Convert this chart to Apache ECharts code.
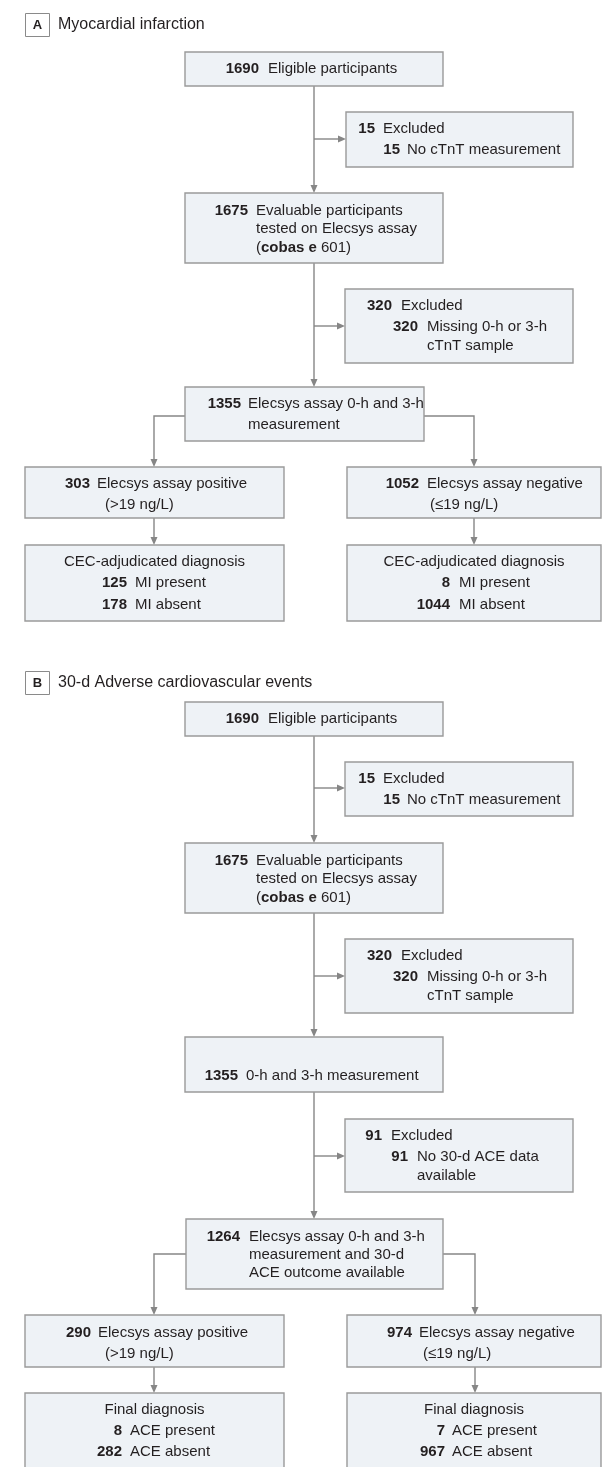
<!DOCTYPE html>
<html><head><meta charset="utf-8">
<script src="https://cdn.jsdelivr.net/npm/echarts/dist/echarts.min.js"></script>
<style>html,body{margin:0;padding:0;background:#fff}#c{width:602px;height:1467px}</style>
</head><body><div id="c"></div>
<script>
// ---------- DATA ----------
const panelLetters = ['A', 'B'];
const panelTitles = ['Myocardial infarction', '30-d Adverse cardiovascular events'];

const numsA = [1690, 15, 15, 1675, null, null, 320, 320, null, 1355, null, 303, null, 1052, null, null, 125, 178, null, 8, 1044];
const textsA = ['Eligible participants', 'Excluded', 'No cTnT measurement',
  'Evaluable participants', 'tested on Elecsys assay', '({b|cobas e} 601)',
  'Excluded', 'Missing 0-h or 3-h', 'cTnT sample',
  'Elecsys assay 0-h and 3-h', 'measurement',
  'Elecsys assay positive', '(>19 ng/L)',
  'Elecsys assay negative', '(≤19 ng/L)',
  'CEC-adjudicated diagnosis', 'MI present', 'MI absent',
  'CEC-adjudicated diagnosis', 'MI present', 'MI absent'];

const numsB = [1690, 15, 15, 1675, null, null, 320, 320, null, 1355, 91, 91, null, 1264, null, null, 290, null, 974, null, null, 8, 282, null, 7, 967];
const textsB = ['Eligible participants', 'Excluded', 'No cTnT measurement',
  'Evaluable participants', 'tested on Elecsys assay', '({b|cobas e} 601)',
  'Excluded', 'Missing 0-h or 3-h', 'cTnT sample',
  '0-h and 3-h measurement',
  'Excluded', 'No 30-d ACE data', 'available',
  'Elecsys assay 0-h and 3-h', 'measurement and 30-d', 'ACE outcome available',
  'Elecsys assay positive', '(>19 ng/L)',
  'Elecsys assay negative', '(≤19 ng/L)',
  'Final diagnosis', 'ACE present', 'ACE absent',
  'Final diagnosis', 'ACE present', 'ACE absent'];

// ---------- LAYOUT (flowchart geometry, in axis units) ----------
const labelBoxes = [[25, 13, 49, 36, 58, 25], [25, 671, 49, 694, 58, 683]];
// [x0, y0, x1, y1, firstLine, lineCount]
const boxesA = [
  [185, 52, 443, 86, 0, 1], [346, 112, 573, 167, 1, 2], [185, 193, 443, 263, 3, 3],
  [345, 289, 573, 363, 6, 3], [185, 387, 424, 441, 9, 2], [25, 467, 284, 518, 11, 2],
  [347, 467, 601, 518, 13, 2], [25, 545, 284, 621, 15, 3], [347, 545, 601, 621, 18, 3]];
// [number right x, text left x (-1 = centred), y]
const linesA = [
  [259, 268, 69],
  [375, 383, 129], [400, 407, 150],
  [248, 256, 211], [0, 256, 229], [0, 256, 248],
  [392, 401, 306], [418, 427, 327], [0, 427, 346],
  [241, 248, 404], [0, 248, 425],
  [90, 97, 484], [0, 105, 505],
  [419, 427, 484], [0, 430, 505],
  [0, -1, 562], [127, 135, 583], [127, 135, 605],
  [0, -1, 562], [450, 459, 583], [450, 459, 605]];
const arrowsA = [
  [[314, 86], [314, 193]], [[314, 139], [346, 139]],
  [[314, 263], [314, 387]], [[314, 326], [345, 326]],
  [[185, 416], [154, 416], [154, 467]], [[424, 416], [474, 416], [474, 467]],
  [[154, 518], [154, 545]], [[474, 518], [474, 545]]];

const boxesB = [
  [185, 702, 443, 736, 0, 1], [345, 762, 573, 816, 1, 2], [185, 843, 443, 913, 3, 3],
  [345, 939, 573, 1013, 6, 3], [185, 1037, 443, 1092, 9, 1], [345, 1119, 573, 1192, 10, 3],
  [186, 1219, 443, 1289, 13, 3], [25, 1315, 284, 1367, 16, 2], [347, 1315, 601, 1367, 18, 2],
  [25, 1393, 284, 1480, 20, 3], [347, 1393, 601, 1480, 23, 3]];
const linesB = [
  [259, 268, 719],
  [375, 383, 779], [400, 407, 800],
  [248, 256, 861], [0, 256, 879], [0, 256, 898],
  [392, 401, 956], [418, 427, 977], [0, 427, 996],
  [238, 246, 1076],
  [382, 391, 1136], [408, 417, 1157], [0, 417, 1176],
  [240, 249, 1237], [0, 249, 1255], [0, 249, 1273],
  [91, 98, 1333], [0, 105, 1354],
  [412, 419, 1333], [0, 423, 1354],
  [0, -1, 1410], [122, 130, 1431], [122, 130, 1452],
  [0, -1, 1410], [445, 452, 1431], [445, 452, 1452]];
const arrowsB = [
  [[314, 736], [314, 843]], [[314, 788], [345, 788]],
  [[314, 913], [314, 1037]], [[314, 976], [345, 976]],
  [[314, 1092], [314, 1219]], [[314, 1156], [345, 1156]],
  [[186, 1254], [154, 1254], [154, 1315]], [[443, 1254], [475, 1254], [475, 1315]],
  [[154, 1367], [154, 1393]], [[475, 1367], [475, 1393]]];

// ---------- STYLE ----------
const FONT = '"Liberation Sans", Arial, sans-serif';
const FS = 15;
const TITLE_FS = 16;
const TXT = '#231f20';
const BOX_FILL = '#eef2f6';
const BOX_STROKE = '#9a9a9a';
const LINE = '#868686';

const panels = [
  {nums: numsA, texts: textsA, boxes: boxesA, lines: linesA, arrows: arrowsA},
  {nums: numsB, texts: textsB, boxes: boxesB, lines: linesB, arrows: arrowsB}];

const boxData = [], arrowData = [];
panels.forEach((p, pi) => {
  p.boxes.forEach((b, bi) => boxData.push({value: [b[0], b[1], b[2], b[3]], pi: pi, bi: bi}));
  p.arrows.forEach((a, ai) => arrowData.push({value: [a[0][0], a[0][1]], pi: pi, ai: ai}));
});

function textEl(x, y, text, align, bold, size) {
  const fs = size || FS;
  return {
    type: 'text', x: x, y: y,
    style: {
      text: text, fill: TXT, fontSize: fs, fontFamily: FONT, fontWeight: bold ? 'bold' : 'normal',
      align: align, textAlign: align, verticalAlign: 'middle', textVerticalAlign: 'middle',
      rich: {b: {fontWeight: 'bold', fontSize: fs, fontFamily: FONT, fill: TXT, color: TXT}}
    }
  };
}

const chart = echarts.init(document.getElementById('c'), null, {renderer: 'canvas'});
chart.setOption({
  backgroundColor: '#ffffff',
  animation: false,
  grid: {left: 0, right: 0, top: 0, bottom: 0},
  xAxis: {type: 'value', min: 0, max: 602, show: false},
  yAxis: {type: 'value', min: 0, max: 1467, inverse: true, show: false},
  series: [
    {
      type: 'custom', name: 'labels', clip: false,
      data: labelBoxes.map((l, i) => ({value: [l[0], l[1]], i: i})),
      renderItem: function (params, api) {
        const l = labelBoxes[params.dataIndex];
        const p0 = api.coord([l[0], l[1]]), p1 = api.coord([l[2], l[3]]);
        const t = api.coord([l[4], l[5]]);
        return {type: 'group', children: [
          {type: 'rect', shape: {x: p0[0] + 0.5, y: p0[1] + 0.5, width: p1[0] - p0[0], height: p1[1] - p0[1]},
            style: {fill: '#fff', stroke: '#8a8a8a', lineWidth: 1}},
          {type: 'text', x: (p0[0] + p1[0]) / 2 + 0.5, y: (p0[1] + p1[1]) / 2 + 1,
            style: {text: panelLetters[params.dataIndex], fill: TXT, fontSize: 13, fontWeight: 'bold', fontFamily: FONT,
              align: 'center', textAlign: 'center', verticalAlign: 'middle', textVerticalAlign: 'middle'}},
          textEl(t[0], t[1], panelTitles[params.dataIndex], 'left', false, TITLE_FS)
        ]};
      }
    },
    {
      type: 'custom', name: 'arrows', clip: false,
      data: arrowData,
      renderItem: function (params, api) {
        const d = arrowData[params.dataIndex];
        const pts = panels[d.pi].arrows[d.ai].map(q => api.coord(q));
        const n = pts.length;
        const end = pts[n - 1], prev = pts[n - 2];
        const dx = end[0] - prev[0], dy = end[1] - prev[1];
        const len = Math.sqrt(dx * dx + dy * dy);
        const ux = dx / len, uy = dy / len;
        const L = 8, W = 3.5;
        const base = [end[0] - ux * L, end[1] - uy * L];
        const linePts = pts.slice(0, n - 1).concat([base]);
        return {type: 'group', children: [
          {type: 'polyline', shape: {points: linePts}, style: {stroke: LINE, lineWidth: 1.4, fill: null}},
          {type: 'polygon', shape: {points: [end, [base[0] - uy * W, base[1] + ux * W], [base[0] + uy * W, base[1] - ux * W]]},
            style: {fill: LINE, stroke: null}}
        ]};
      }
    },
    {
      type: 'custom', name: 'boxes', clip: false,
      data: boxData,
      renderItem: function (params, api) {
        const d = boxData[params.dataIndex];
        const p = panels[d.pi];
        const b = p.boxes[d.bi];
        const p0 = api.coord([b[0], b[1]]), p1 = api.coord([b[2], b[3]]);
        const cx = (p0[0] + p1[0]) / 2;
        const children = [{
          type: 'rect', shape: {x: p0[0], y: p0[1], width: p1[0] - p0[0], height: p1[1] - p0[1]},
          style: {fill: BOX_FILL, stroke: BOX_STROKE, lineWidth: 1.4}
        }];
        for (let k = b[4]; k < b[4] + b[5]; k++) {
          const ln = p.lines[k];
          const y = api.coord([0, ln[2]])[1];
          if (p.nums[k] !== null) {
            children.push(textEl(api.coord([ln[0], 0])[0], y, String(p.nums[k]), 'right', true));
          }
          if (ln[1] < 0) {
            children.push(textEl(cx, y, p.texts[k], 'center', false));
          } else {
            children.push(textEl(api.coord([ln[1], 0])[0], y, p.texts[k], 'left', false));
          }
        }
        return {type: 'group', children: children};
      }
    }
  ]
});
</script></body></html>
